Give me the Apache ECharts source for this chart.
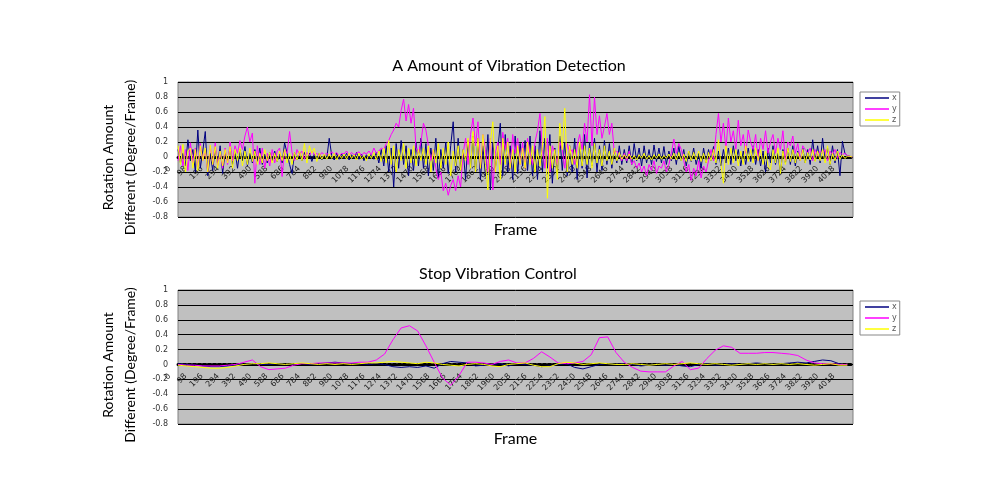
<!DOCTYPE html>
<html><head><meta charset="utf-8">
<script src="https://cdn.jsdelivr.net/npm/echarts@6/dist/echarts.min.js"></script>
<style>html,body{margin:0;padding:0;background:#fff}#c{width:1000px;height:500px}</style>
</head><body><div id="c"></div>
<script>
// ---- data ----
var TOP_STEP = 15;      // frames between sampled points (top chart)
var BOTTOM_STEP = 50;   // frames between sampled points (bottom chart)
var yTicks = [-0.8, -0.6, -0.4, -0.2, 0, 0.2, 0.4, 0.6, 0.8, 1];
var seriesNames = ['x', 'y', 'z'];

// top chart: "A Amount of Vibration Detection" (one value every 15 frames)
var topX = [
 0.10,-0.08,0.05,-0.12,0.23,-0.05,0.10,-0.20,0.36,-0.15,0.08,0.34,-0.25,0.05,-0.18,0.12,-0.10,0.15,-0.22,0.06,
 -0.05,0.12,-0.10,0.08,-0.15,0.10,-0.05,0.14,-0.12,0.05,-0.08,0.10,-0.06,0.12,-0.10,0.04,-0.08,0.06,-0.05,0.08,
 -0.06,0.04,-0.08,0.19,0.05,-0.10,-0.22,0.06,-0.04,0.08,-0.05,0.06,-0.03,0.05,-0.06,0.04,-0.02,0.05,-0.04,0.03,
 -0.02,0.25,0.02,-0.04,0.05,-0.03,0.04,-0.02,0.05,-0.04,0.03,-0.02,0.06,-0.03,0.04,-0.05,0.03,-0.02,0.04,-0.03,
 0.06,-0.08,0.10,-0.12,0.15,-0.20,0.12,-0.40,0.18,-0.15,0.22,-0.10,0.15,-0.25,0.10,-0.18,0.20,-0.12,0.25,-0.15,
 0.18,-0.25,0.12,-0.18,0.25,-0.28,0.10,-0.15,0.20,-0.22,0.15,0.47,-0.20,0.25,-0.18,0.10,-0.30,0.22,-0.15,0.28,
 -0.20,0.25,-0.30,0.15,-0.25,0.30,-0.44,0.20,-0.15,0.10,0.45,-0.25,0.30,-0.20,0.15,-0.30,0.28,-0.22,0.18,-0.12,
 0.22,-0.18,0.28,-0.25,0.15,-0.30,0.35,-0.20,0.25,-0.15,0.30,-0.35,0.12,-0.22,0.28,-0.18,0.20,-0.25,0.15,-0.20,
 0.25,-0.30,0.18,-0.15,0.30,-0.28,0.20,-0.12,0.25,-0.20,0.15,-0.18,0.22,-0.10,0.18,-0.15,0.12,-0.08,0.15,-0.10,
 0.10,-0.08,0.15,-0.10,0.18,-0.05,0.12,-0.12,0.15,-0.08,0.10,-0.10,0.16,-0.06,0.12,-0.08,0.14,-0.10,0.08,-0.05,
 0.12,-0.10,0.15,-0.05,0.10,-0.12,0.08,-0.06,0.12,-0.10,0.05,-0.15,0.12,-0.08,0.10,-0.05,0.14,-0.10,0.08,-0.12,
 0.10,-0.08,0.12,-0.10,0.15,-0.05,0.10,-0.12,0.08,-0.10,0.12,-0.06,0.15,-0.10,0.10,-0.12,0.08,-0.20,0.12,-0.08,
 0.15,-0.10,0.05,-0.22,0.10,-0.08,0.12,-0.10,0.15,-0.12,0.08,-0.05,0.12,-0.08,0.10,-0.10,0.23,-0.05,0.15,-0.08,
 0.25,-0.05,0.12,-0.10,0.15,-0.08,0.10,-0.25,0.21,0.05,0.02,0.01,0.00
];
var topY = [
 -0.05,0.15,-0.12,0.10,-0.18,0.19,-0.08,0.12,-0.15,0.18,-0.05,0.10,-0.20,0.15,-0.10,0.19,-0.12,0.08,-0.15,0.12,
 -0.10,0.20,-0.05,0.15,0.05,0.22,0.10,0.28,0.40,0.20,0.32,-0.35,0.15,-0.10,0.12,-0.15,0.05,-0.12,0.10,-0.08,
 0.08,0.12,-0.26,0.10,0.05,0.34,0.06,-0.05,0.10,0.02,0.08,-0.03,0.06,0.02,0.08,0.03,0.05,0.01,0.06,0.03,
 0.05,0.02,0.07,0.03,0.06,0.01,0.05,0.04,0.08,0.02,0.06,0.03,0.05,0.07,0.02,0.06,0.04,0.08,0.03,0.12,
 0.05,0.08,0.12,0.10,0.18,0.22,0.30,0.36,0.45,0.40,0.62,0.77,0.48,0.70,0.45,0.65,0.12,0.05,0.20,0.45,
 0.36,0.15,-0.05,0.10,-0.15,-0.30,-0.20,-0.45,-0.35,-0.51,-0.38,-0.30,-0.45,-0.25,-0.40,0.05,0.25,-0.10,0.30,0.52,
 0.15,0.47,-0.15,0.30,0.10,-0.20,0.25,-0.44,0.05,0.20,-0.10,0.33,0.10,0.25,-0.15,0.30,0.05,0.25,-0.10,0.20,
 -0.15,0.25,0.05,-0.10,0.20,0.35,0.58,0.10,-0.15,0.25,-0.20,0.15,0.05,-0.10,0.20,0.10,-0.15,0.18,0.05,0.10,
 -0.10,0.15,0.30,0.10,0.45,0.20,0.83,0.15,0.80,0.30,0.55,0.25,0.40,0.58,0.30,0.45,0.05,0.08,0.02,-0.05,
 0.05,-0.05,0.08,-0.10,-0.05,-0.15,-0.08,-0.20,-0.12,-0.25,-0.10,-0.18,-0.05,-0.22,-0.12,-0.15,-0.05,-0.20,-0.10,0.05,
 0.24,0.05,0.18,0.10,-0.05,-0.20,-0.10,-0.31,-0.15,-0.25,-0.05,-0.28,-0.12,-0.20,-0.05,0.10,-0.05,0.30,0.58,0.20,
 0.45,0.10,0.52,0.20,0.35,0.10,0.49,0.15,0.30,0.05,0.36,0.20,0.10,0.30,-0.05,0.25,0.10,0.35,0.05,0.20,
 0.30,0.05,0.25,0.10,0.35,-0.05,0.20,0.15,0.28,0.05,0.18,-0.05,0.15,0.10,0.05,0.12,-0.05,0.10,0.02,0.08,
 0.05,0.10,-0.05,0.08,0.03,0.10,-0.02,0.06,0.03,0.05,0.02,0.01,0.00
];
var topZ = [
 0.15,-0.10,0.17,-0.20,0.08,0.12,-0.15,0.10,-0.18,0.15,-0.05,0.12,-0.20,0.16,-0.10,0.14,-0.15,0.08,-0.12,0.10,
 -0.08,0.14,-0.15,0.10,-0.05,0.12,-0.12,0.08,-0.10,0.12,-0.06,0.08,-0.10,0.05,-0.08,0.10,-0.05,0.06,-0.08,0.05,
 -0.06,0.08,-0.05,0.10,-0.08,0.05,-0.10,0.06,-0.04,0.08,-0.05,0.18,-0.08,0.15,0.05,0.12,-0.06,0.05,-0.03,0.04,
 -0.03,0.04,-0.02,0.05,-0.04,0.03,-0.02,0.04,-0.03,0.05,-0.02,0.03,-0.04,0.05,-0.03,0.02,-0.05,0.04,-0.02,0.06,
 -0.04,0.08,-0.06,0.12,-0.08,0.22,-0.10,0.15,-0.20,0.10,-0.05,0.18,-0.15,0.12,-0.08,0.15,-0.12,0.10,-0.05,0.12,
 -0.10,0.15,-0.20,0.10,-0.08,0.18,-0.15,0.12,-0.10,0.20,-0.25,0.08,-0.12,0.15,-0.18,0.10,-0.05,0.25,-0.15,0.34,
 -0.20,0.25,-0.15,0.30,-0.10,-0.44,0.20,0.47,-0.20,0.15,-0.30,0.25,-0.10,0.20,-0.15,0.10,-0.20,0.15,-0.10,0.12,
 -0.15,0.20,-0.10,0.15,-0.20,0.10,-0.12,0.15,0.54,-0.55,0.15,-0.15,0.10,-0.30,0.45,0.10,0.65,-0.20,0.15,-0.10,
 0.10,-0.15,0.20,-0.12,0.15,-0.10,0.12,-0.15,0.18,-0.08,0.10,-0.12,0.15,-0.05,0.08,-0.10,0.12,-0.05,0.06,-0.03,
 0.03,-0.02,0.04,-0.03,0.02,-0.04,0.03,-0.02,0.05,-0.03,0.02,-0.04,0.03,-0.02,0.04,-0.03,0.02,-0.02,0.04,-0.03,
 0.05,-0.04,0.06,-0.05,0.04,-0.06,0.08,-0.05,0.06,-0.04,0.08,-0.06,0.05,-0.08,0.06,-0.05,0.10,-0.08,0.23,-0.10,
 -0.35,0.15,-0.10,0.12,-0.08,0.10,-0.12,0.08,-0.10,0.15,-0.06,0.10,-0.08,0.12,-0.05,0.10,-0.10,0.08,-0.12,-0.17,
 0.10,-0.08,0.12,-0.22,0.08,-0.10,0.12,-0.06,0.10,-0.08,0.06,-0.05,0.10,-0.08,0.06,-0.04,0.10,-0.06,0.08,-0.05,
 0.10,-0.08,0.15,-0.10,0.05,-0.05,0.08,-0.03,0.03,-0.02,0.01,0.01,0.00
];

// bottom chart: "Stop Vibration Control" (one value every 50 frames)
var botY = [
 0.00,-0.01,-0.01,-0.02,-0.02,-0.02,-0.01,0.00,0.03,0.06,
 -0.03,-0.07,-0.06,-0.05,-0.01,0.01,0.01,0.02,0.02,0.02,
 0.02,0.02,0.03,0.03,0.06,0.14,0.33,0.49,0.52,0.45,
 0.25,0.03,-0.18,-0.28,-0.15,0.03,0.03,0.02,0.00,0.04,
 0.06,0.02,0.02,0.08,0.17,0.10,0.02,0.01,0.02,0.04,
 0.13,0.36,0.37,0.16,0.03,-0.04,-0.09,-0.10,-0.10,-0.10,
 -0.02,0.04,-0.07,-0.05,0.08,0.19,0.25,0.23,0.15,0.15,
 0.15,0.16,0.16,0.15,0.14,0.12,0.06,0.02,0.01,0.01,
 0.00,0.00
];
var botX = [
 0.01,0.00,-0.01,-0.02,-0.03,-0.03,-0.02,-0.01,0.00,0.01,
 0.00,0.00,0.01,0.00,0.00,0.01,0.00,0.01,0.02,0.03,
 0.02,0.01,0.01,0.00,0.01,0.00,-0.03,-0.04,-0.03,-0.04,
 -0.02,-0.05,0.01,0.04,0.03,0.02,-0.02,-0.01,0.00,0.01,
 -0.02,0.01,0.00,-0.01,-0.03,-0.02,0.00,0.01,-0.04,-0.06,
 -0.03,0.00,0.01,0.00,0.01,0.00,-0.02,-0.01,0.00,-0.01,
 0.00,-0.02,-0.03,0.00,0.01,-0.01,0.00,0.01,0.00,0.01,
 0.02,0.01,0.00,0.01,0.02,0.03,0.02,0.04,0.06,0.05,
 0.01,-0.01
];
var botZ = [
 -0.01,-0.02,-0.03,-0.04,-0.05,-0.05,-0.04,-0.02,0.00,0.01,
 0.01,0.02,0.01,0.00,0.01,0.02,0.01,0.00,0.01,0.00,
 0.01,0.00,0.01,0.02,0.02,0.03,0.04,0.03,0.02,0.01,
 0.03,0.02,0.00,-0.01,-0.02,0.00,0.01,0.00,-0.02,-0.03,
 0.00,0.01,0.02,-0.01,-0.03,-0.03,0.01,0.03,0.02,0.00,
 0.01,0.02,0.01,0.00,0.00,0.01,0.00,-0.01,0.00,0.01,
 0.00,0.01,0.02,0.01,0.00,0.01,0.00,-0.01,0.00,0.01,
 0.00,0.01,0.00,0.01,0.00,0.01,0.00,-0.01,0.00,0.01,
 -0.01,-0.01
];

// ---- chart ----
var FONT = 'Lato, "DejaVu Sans", sans-serif';
var colors = ['#000080', '#ff00ff', '#ffff00'];
function pairs(vals, step) {
  return vals.map(function (v, i) { return [i * step, v]; });
}
function xAxisDef(idx, offset, gap) {
  return {
    gridIndex: idx, type: 'value', min: 0, max: 4084, interval: 98,
    position: 'bottom', offset: offset,
    splitLine: { show: false },
    axisLine: { onZero: false, lineStyle: { color: '#000', width: 3, type: [3, 2] } },
    axisTick: { show: false },
    axisLabel: { rotate: 45, fontSize: 8, color: '#222', fontFamily: 'DejaVu Sans', margin: 2,
      padding: [0, 12, 0, 0], showMaxLabel: false,
      formatter: function (v) { return String(v); } },
    name: 'Frame', nameLocation: 'middle', nameGap: gap,
    nameTextStyle: { fontSize: 16, color: '#000', fontFamily: FONT }
  };
}
function yAxisDef(idx) {
  return {
    gridIndex: idx, type: 'value', min: -0.8, max: 1, interval: 0.2,
    splitLine: { show: true, lineStyle: { color: '#000', width: 1 } },
    axisLine: { show: false, onZero: false }, axisTick: { show: false },
    axisLabel: { fontSize: 8, color: '#333', fontFamily: 'DejaVu Sans', margin: 10,
      formatter: function (v) { return (Math.round(v * 10) / 10).toString(); } },
    name: 'Rotation Amount\nDifferent (Degree/Frame)', nameLocation: 'middle', nameRotate: 90,
    nameGap: 33,
    nameTextStyle: { fontSize: 14, color: '#000', fontFamily: FONT, lineHeight: 22,
      padding: [0, 16, 0, 0] }
  };
}
function lineSeries(name, data, axisIdx, color) {
  return { name: name, type: 'line', xAxisIndex: axisIdx, yAxisIndex: axisIdx,
    data: data, showSymbol: false, symbol: 'none', animation: false,
    lineStyle: { color: color, width: 1 }, itemStyle: { color: color } };
}
function legendDef(top) {
  return { left: 860, top: top, orient: 'vertical', icon: 'rect', itemWidth: 24, itemHeight: 1.5, itemGap: 3,
    padding: [2, 3, 2, 5], backgroundColor: '#fff', borderColor: '#888', borderWidth: 1,
    textStyle: { fontSize: 8, color: '#555', fontFamily: 'DejaVu Sans', padding: [0, 0, 0, -2] },
    data: seriesNames };
}

var chart = echarts.init(document.getElementById('c'));
chart.setOption({
  animation: false,
  color: colors,
  title: [
    { text: 'A Amount of Vibration Detection', left: 504, top: 53, textAlign: 'center',
      textStyle: { fontSize: 16, fontWeight: 'normal', color: '#000', fontFamily: FONT } },
    { text: 'Stop Vibration Control', left: 493, top: 261, textAlign: 'center',
      textStyle: { fontSize: 16, fontWeight: 'normal', color: '#000', fontFamily: FONT } }
  ],
  legend: [legendDef(92), legendDef(301)],
  grid: [
    { left: 178, right: 147, top: 82, height: 135, show: true, backgroundColor: '#c0c0c0', borderColor: '#808080', borderWidth: 1 },
    { left: 178, right: 147, top: 290, height: 134, show: true, backgroundColor: '#c0c0c0', borderColor: '#808080', borderWidth: 1 }
  ],
  xAxis: [xAxisDef(0, -60, 65), xAxisDef(1, -59.5, 66)],
  yAxis: [yAxisDef(0), yAxisDef(1)],
  series: [
    lineSeries('x', pairs(topX, TOP_STEP), 0, colors[0]),
    lineSeries('y', pairs(topY, TOP_STEP), 0, colors[1]),
    lineSeries('z', pairs(topZ, TOP_STEP), 0, colors[2]),
    lineSeries('x', pairs(botX, BOTTOM_STEP), 1, colors[0]),
    lineSeries('y', pairs(botY, BOTTOM_STEP), 1, colors[1]),
    lineSeries('z', pairs(botZ, BOTTOM_STEP), 1, colors[2])
  ]
});
</script></body></html>
